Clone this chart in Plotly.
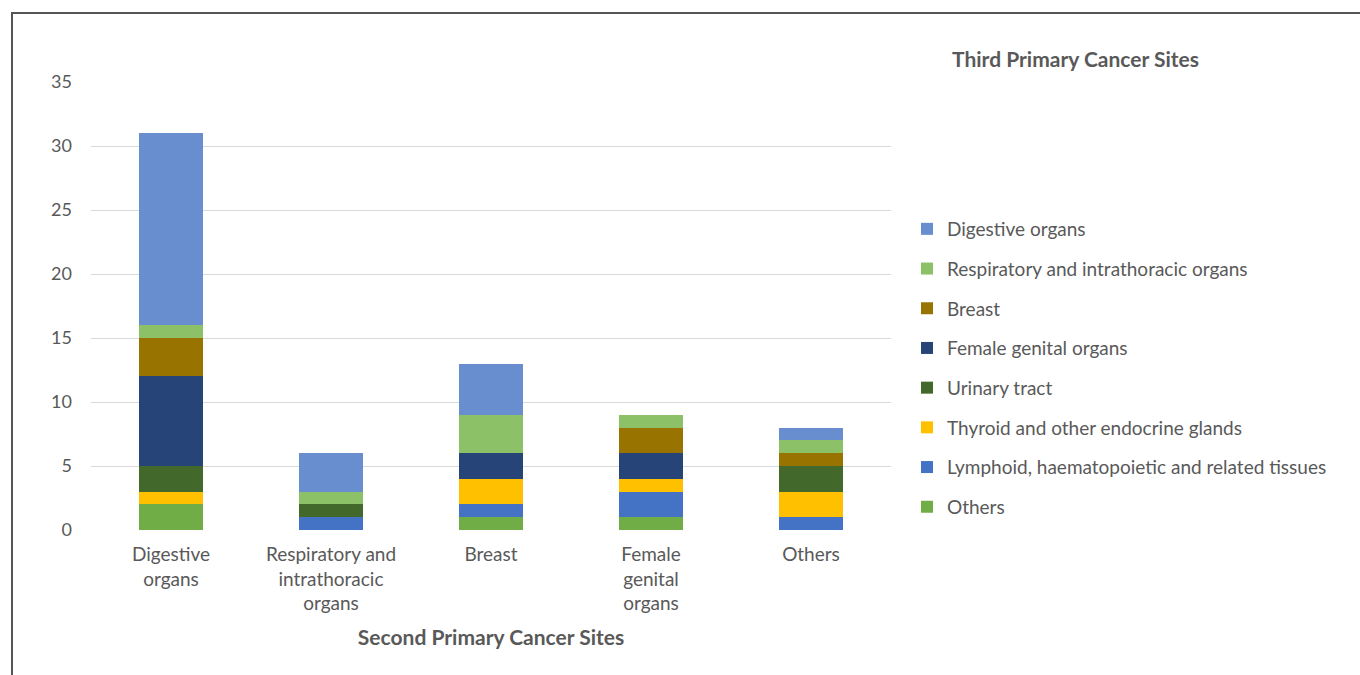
import plotly.graph_objects as go

# Second primary cancer sites (x categories)
categories = ["Digestive<br>organs", "Respiratory and<br>intrathoracic<br>organs", "Breast",
              "Female<br>genital<br>organs", "Others"]

# Third primary cancer site counts per second-site category (stacked bottom -> top)
others       = [2, 0, 1, 1, 0]
lymphoid     = [0, 1, 1, 2, 1]
thyroid      = [1, 0, 2, 1, 2]
urinary      = [2, 1, 0, 0, 2]
female_gen   = [7, 0, 2, 2, 0]
breast       = [3, 0, 0, 2, 1]
respiratory  = [1, 1, 3, 1, 1]
digestive    = [15, 3, 4, 0, 1]

series = [
    ("Others", others, "#70ad47"),
    ("Lymphoid, haematopoietic and related tissues", lymphoid, "#4472c4"),
    ("Thyroid and other endocrine glands", thyroid, "#ffc000"),
    ("Urinary tract", urinary, "#43682b"),
    ("Female genital organs", female_gen, "#264478"),
    ("Breast", breast, "#997300"),
    ("Respiratory and intrathoracic organs", respiratory, "#8cc168"),
    ("Digestive organs", digestive, "#698ed0"),
]

FONT = "Lato, 'Open Sans', sans-serif"
TEXT = "#595959"

fig = go.Figure()
n = len(series)
for i, (name, vals, color) in enumerate(series):
    fig.add_trace(go.Bar(
        x=categories, y=vals, name=name, legendgroup=name,
        legendrank=n - i,  # top of the stack listed first in the legend
        marker=dict(color=color, line=dict(width=0)),
    ))

# plot area geometry in pixels (used for the outer frame in paper units)
L, R, T, B, W, H = 91, 469, 82, 145, 1360, 675
pw, ph = W - L - R, H - T - B

def px_x(p):
    return (p - L) / pw

def px_y(p):
    return (H - B - p) / ph

fig.update_layout(
    width=W, height=H,
    margin=dict(l=L, r=R, t=T, b=B, pad=0),
    barmode="stack", bargap=0.6,
    plot_bgcolor="white", paper_bgcolor="white",
    font=dict(family=FONT, size=19, color=TEXT),
    showlegend=True,
    legend=dict(
        x=px_x(907), xanchor="left", y=px_y(210), yanchor="top",
        traceorder="grouped", tracegroupgap=12,
        font=dict(family=FONT, size=19, color=TEXT),
        bgcolor="rgba(0,0,0,0)", itemclick=False,
    ),
    xaxis=dict(
        showgrid=False, showline=False, zeroline=False, ticks="",
        tickfont=dict(size=19, color=TEXT), ticklabelstandoff=11, fixedrange=True,
        title=dict(text="<b>Second Primary Cancer Sites</b>",
                   font=dict(size=21, color=TEXT), standoff=16),
    ),
    yaxis=dict(
        range=[0, 35], dtick=5, showgrid=True, gridcolor="#d9d9d9", gridwidth=1.3,
        zeroline=False, showline=False, ticks="",
        tickfont=dict(size=18, color=TEXT), ticklabelstandoff=18, fixedrange=True,
    ),
    annotations=[dict(
        text="<b>Third Primary Cancer Sites</b>", xref="paper", yref="paper",
        x=px_x(1075), y=px_y(59), xanchor="center", yanchor="middle",
        showarrow=False, font=dict(family=FONT, size=21, color=TEXT),
    )],
    shapes=[dict(
        type="rect", xref="paper", yref="paper",
        x0=px_x(12), x1=px_x(1380), y0=px_y(13), y1=px_y(700),
        line=dict(color="#555555", width=2), fillcolor="rgba(0,0,0,0)", layer="above",
    )],
)

fig.write_html("out.html", config=dict(displayModeBar=False))
